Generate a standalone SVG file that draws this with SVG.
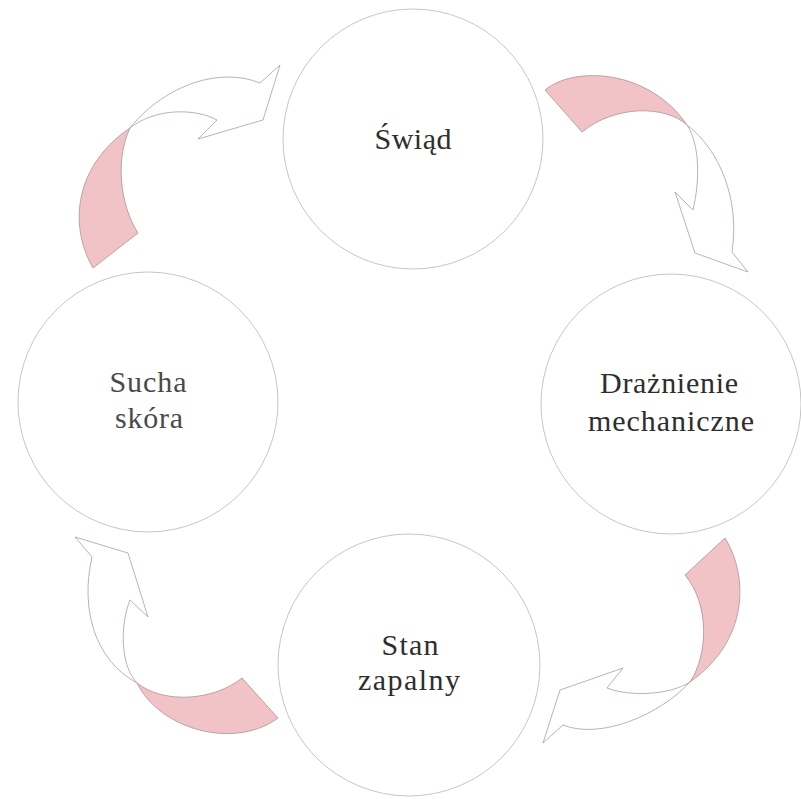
<svg xmlns="http://www.w3.org/2000/svg" width="801" height="799" viewBox="0 0 801 799">
<style>
.node{fill:#ffffff;stroke:#c6c6c6;stroke-width:1}
.lbl{font-family:"Liberation Serif","DejaVu Serif",serif;font-size:30px;fill:#2e2e2e;text-anchor:middle}
.pink{fill:#f2c3c6;stroke:#a99494;stroke-width:0.8;stroke-linejoin:round}
.white{fill:#ffffff;stroke:#aaa0a0;stroke-width:0.8;stroke-linejoin:round}
</style>
<rect x="0" y="0" width="801" height="799" fill="#ffffff"/>
<g id="connectors">
  <g id="arrow-sucha-swiad">
    <path class="pink" d="M93,268 C68,225 75,165 130,128 C115,160 120,205 138,233 Z"/>
    <path class="white" d="M130,128 C160,90 215,65 260,83 L280,65 L263,120 L198,139 L217,120 C195,108 155,108 130,128 Z"/>
  </g>
  <g id="arrow-swiad-draznienie">
    <path class="pink" d="M545,90 C575,65 650,70 687,125 C665,105 615,105 582,132 Z"/>
    <path class="white" d="M687,125 C720,150 740,200 732,252 L748,272 L695,253 L675,192 L693,210 C700,180 700,145 687,125 Z"/>
  </g>
  <g id="arrow-draznienie-stan">
    <path class="pink" d="M685,575 L725,538 C748,575 750,640 690,682 C708,655 710,605 685,575 Z"/>
    <path class="white" d="M690,682 C660,715 600,740 563,725 L543,743 L560,690 L623,668 L607,688 C630,697 670,695 690,682 Z"/>
  </g>
  <g id="arrow-stan-sucha">
    <path class="pink" d="M242,678 C215,700 165,705 137,683 C160,730 235,750 278,718 Z"/>
    <path class="white" d="M137,683 C95,660 80,610 92,557 L75,537 L128,553 L148,617 L130,600 C120,625 120,665 137,683 Z"/>
  </g>
</g>
<g id="node-swiad">
  <circle class="node" cx="413" cy="139" r="130"/>
  <text class="lbl" x="413" y="149" textLength="77" lengthAdjust="spacing">Świąd</text>
</g>
<g id="node-draznienie">
  <circle class="node" cx="671" cy="404" r="130"/>
  <text class="lbl" x="669" y="393" textLength="138" lengthAdjust="spacing">Drażnienie</text>
  <text class="lbl" x="671" y="431" textLength="166" lengthAdjust="spacing">mechaniczne</text>
</g>
<g id="node-stan">
  <circle class="node" cx="409" cy="665" r="131"/>
  <text class="lbl" x="410" y="655" textLength="57" lengthAdjust="spacing">Stan</text>
  <text class="lbl" x="409" y="690" textLength="102" lengthAdjust="spacing">zapalny</text>
</g>
<g id="node-sucha">
  <circle class="node" cx="148" cy="402" r="130"/>
  <text class="lbl" x="148" y="392" textLength="77" lengthAdjust="spacing" style="fill:#4a4a4a">Sucha</text>
  <text class="lbl" x="149" y="428" textLength="68" lengthAdjust="spacing" style="fill:#4a4a4a">skóra</text>
</g>
</svg>
